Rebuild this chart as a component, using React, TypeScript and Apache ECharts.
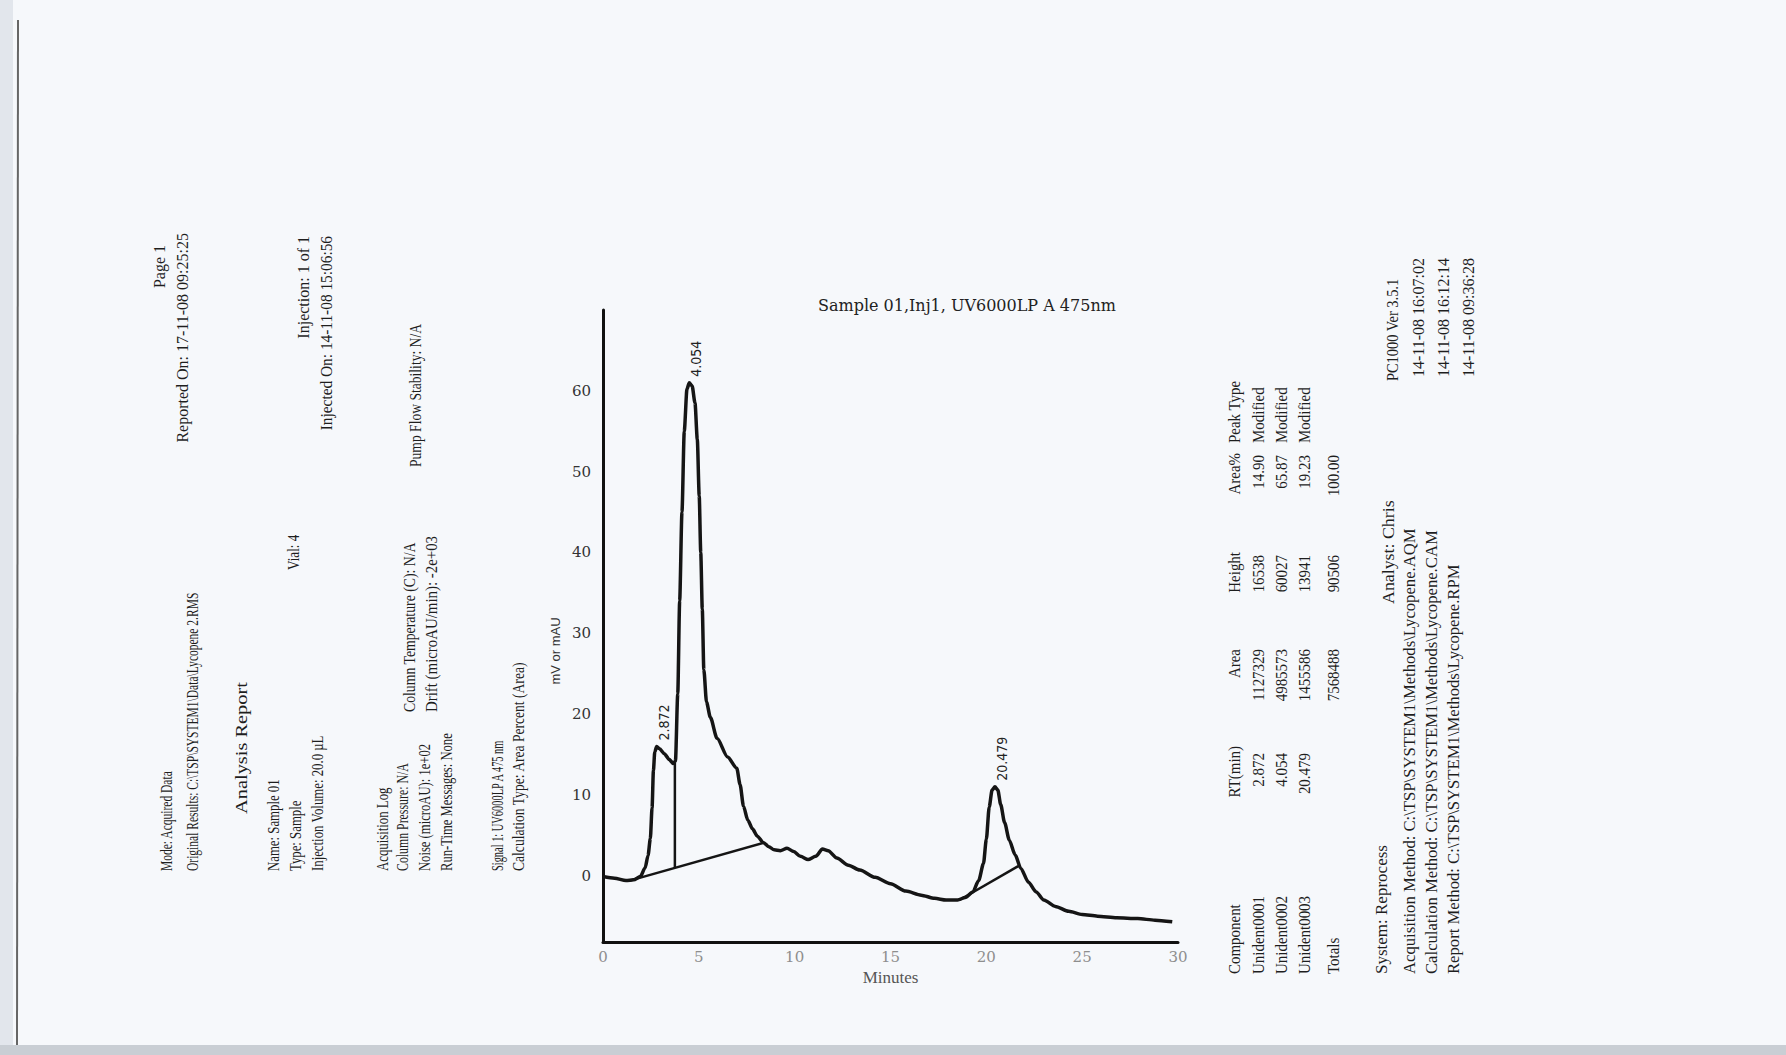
import React, { useEffect, useRef } from 'react';
import * as echarts from 'echarts';

// ---- chromatogram trace (minutes, mAU) ----
const timeMin = [
  0.0, 0.6, 1.2, 1.6, 1.95, 2.2, 2.35, 2.47, 2.56, 2.63, 2.7, 2.8, 2.95, 3.2, 3.45, 3.66,
  3.78, 3.9, 4.0, 4.12, 4.24, 4.38, 4.5, 4.65, 4.8, 4.92, 5.02, 5.1, 5.18, 5.26, 5.4, 5.6,
  5.95, 6.5, 6.98, 7.15, 7.33, 7.55, 7.8, 8.05, 8.36, 8.65, 8.93, 9.25, 9.6, 9.95, 10.3,
  10.7, 11.1, 11.45, 11.75, 12.2, 12.8, 13.4, 14.2, 15.0, 15.8, 16.6, 17.3, 17.9, 18.5,
  18.9, 19.3, 19.6, 19.85, 20.0, 20.15, 20.3, 20.45, 20.6, 20.75, 20.95, 21.2, 21.5,
  21.8, 22.2, 22.6, 23.0, 23.6, 24.3, 25.0, 25.8, 26.8, 27.9, 28.8, 29.7,
];
const signal = [
  -0.1, -0.3, -0.6, -0.5, -0.1, 1.0, 2.5, 4.6, 8.4, 13.0, 15.3, 16.0, 15.7, 15.1, 14.4, 13.9,
  14.2, 22.5, 34.0, 45.0, 55.0, 60.2, 61.0, 60.6, 58.5, 54.0, 47.0, 40.0, 33.0, 25.5, 21.5, 19.6,
  17.0, 14.7, 13.3, 11.3, 8.6, 6.9, 5.8, 4.9, 4.1, 3.6, 3.2, 3.1, 3.4, 3.0, 2.4,
  2.0, 2.4, 3.3, 3.1, 2.2, 1.3, 0.7, -0.2, -1.0, -1.9, -2.4, -2.8, -3.0, -3.0,
  -2.7, -2.0, -0.6, 1.5, 4.5, 8.5, 10.6, 11.0, 10.6, 8.8, 6.6, 4.4, 2.6,
  0.9, -0.8, -2.0, -3.0, -3.8, -4.4, -4.8, -5.0, -5.2, -5.3, -5.5, -5.7,
];

// integration baselines and drop line
const baseline1X = [1.4, 8.4];
const baseline1Y = [-0.6, 4.1];
const dropLineX = [3.75, 3.75];
const dropLineY = [1.0, 14.0];
const baseline2X = [18.6, 21.75];
const baseline2Y = [-3.0, 1.3];

// peak annotations
const peakRT = ['2.872', '4.054', '20.479'];
const peakApexX = [2.8, 4.5, 20.45];
const peakApexY = [16.0, 61.0, 11.0];

// axes
const xTicks = [0, 5, 10, 15, 20, 25, 30];
const yTicks = [0, 10, 20, 30, 40, 50, 60];

// results table
const components = ['Unident0001', 'Unident0002', 'Unident0003'];
const rtValues = ['2.872', '4.054', '20.479'];
const areaValues = ['1127329', '4985573', '1455586'];
const heightValues = ['16538', '60027', '13941'];
const areaPctValues = ['14.90', '65.87', '19.23'];
const peakTypes = ['Modified', 'Modified', 'Modified'];
const totalsRow = { area: '7568488', height: '90506', areaPct: '100.00' };

const DOC_FONT = '"Liberation Serif", "DejaVu Serif", serif';
const NARROW = '"Liberation Sans Narrow", "DejaVu Sans Condensed", "Liberation Sans", sans-serif';
const SERIF = '"DejaVu Serif", "Liberation Serif", serif';

function vtext(
  id: string,
  text: string,
  x: number,
  y: number,
  align: 'left' | 'right' | 'center',
  size = 16,
  scale = 1,
  color = '#1e1e1e',
  family = DOC_FONT
) {
  return {
    type: 'text',
    id,
    x,
    y,
    rotation: Math.PI / 2,
    scaleX: scale,
    silent: true,
    style: {
      text,
      fontSize: size,
      fontFamily: family,
      fill: color,
      align,
      textAlign: align,
      verticalAlign: 'middle',
      textVerticalAlign: 'middle',
    },
  };
}

function pairs(xs: number[], ys: number[]) {
  return xs.map((x, i) => [x, ys[i]]);
}

export default function App() {
  const ref = useRef<HTMLDivElement>(null);
  useEffect(() => {
    if (!ref.current) return;
    const chart = echarts.init(ref.current, null, { renderer: 'svg' });
    const lineColor = '#151515';
    chart.setOption({
      animation: false,
      backgroundColor: '#f6f8fb',
      grid: { left: 603, right: 608, top: 310, bottom: 113, containLabel: false },
      xAxis: {
        type: 'value',
        min: 0,
        max: 30,
        interval: 5,
        name: 'Minutes',
        nameLocation: 'middle',
        nameGap: 26,
        nameTextStyle: { fontFamily: '"Liberation Serif", serif', fontSize: 17, color: '#555' },
        axisLine: { onZero: false, lineStyle: { color: '#111', width: 3 } },
        axisTick: { show: false },
        splitLine: { show: false },
        axisLabel: {
          customValues: xTicks,
          fontFamily: SERIF,
          fontSize: 15,
          color: '#8e8e8e',
          margin: 7,
        },
      },
      yAxis: {
        type: 'value',
        min: -8.2,
        max: 70,
        axisLine: { show: true, lineStyle: { color: '#111', width: 3 } },
        axisTick: { show: false },
        splitLine: { show: false },
        axisLabel: {
          customValues: yTicks,
          fontFamily: SERIF,
          fontSize: 15,
          color: '#333',
          margin: 12,
        },
      },
      series: [
        {
          type: 'line',
          name: 'trace',
          data: pairs(timeMin, signal),
          symbol: 'none',
          smooth: 0.25,
          smoothMonotone: 'x',
          lineStyle: { color: lineColor, width: 3.5 },
        },
        {
          type: 'line',
          data: pairs(baseline1X, baseline1Y),
          symbol: 'none',
          lineStyle: { color: lineColor, width: 2.5 },
        },
        {
          type: 'line',
          data: pairs(dropLineX, dropLineY),
          symbol: 'none',
          lineStyle: { color: lineColor, width: 2.5 },
        },
        {
          type: 'line',
          data: pairs(baseline2X, baseline2Y),
          symbol: 'none',
          lineStyle: { color: lineColor, width: 2.5 },
        },
      ],
    });

    const g: any[] = [];
    // page decoration
    g.push({ type: 'rect', id: 'edgeL', shape: { x: 0, y: 0, width: 13, height: 1055 }, style: { fill: '#e2e6ec' }, silent: true });
    g.push({ type: 'line', id: 'edgeLine', shape: { x1: 18, y1: 20, x2: 17, y2: 1045 }, style: { stroke: '#666', lineWidth: 2 }, silent: true });
    g.push({ type: 'rect', id: 'edgeB', shape: { x: 0, y: 1045, width: 1786, height: 10 }, style: { fill: '#c9ced4' }, silent: true });

    // chart title
    g.push({
      type: 'text', id: 'title', x: 818, y: 305, silent: true,
      style: { text: 'Sample 01,Inj1, UV6000LP A 475nm', fontFamily: SERIF, fontSize: 16, fill: '#222', align: 'left', textAlign: 'left', verticalAlign: 'middle', textVerticalAlign: 'middle' },
    });
    // y axis title
    g.push(vtext('yname', 'mV or mAU', 555, 651, 'center', 13, 1, '#333', '"Liberation Sans", sans-serif'));

    // header block
    const F = 16;
    const B = 871;
    g.push(vtext('t1', 'Mode: Acquired Data', 167, B, 'left', F, 0.72));
    g.push(vtext('t2', 'Original Results: C:\\TSP\\SYSTEM1\\Data\\Lycopene 2.RMS', 193, B, 'left', F, 0.72));
    g.push(vtext('t3', 'Page 1', 159, 245, 'right', F, 1.0));
    g.push(vtext('t4', 'Reported On: 17-11-08 09:25:25', 182, 233, 'right', F, 1.0));
    g.push(vtext('t5', 'Analysis Report', 241, 814, 'left', 17, 1.2));
    g.push(vtext('t6', 'Name: Sample 01', 273, B, 'left', F, 0.8));
    g.push(vtext('t7', 'Vial: 4', 294, 570, 'left', F, 0.82));
    g.push(vtext('t8', 'Injection: 1 of 1', 303, 236, 'right', F, 1.0));
    g.push(vtext('t9', 'Type: Sample', 295, B, 'left', F, 0.8));
    g.push(vtext('t10', 'Injected On: 14-11-08 15:06:56', 326, 236, 'right', F, 0.96));
    g.push(vtext('t11', 'Injection Volume: 20.0 µL', 317, B, 'left', F, 0.8));
    g.push(vtext('t12', 'Acquisition Log', 382, B, 'left', F, 0.8));
    g.push(vtext('t13', 'Column Pressure: N/A', 402, B, 'left', F, 0.74));
    g.push(vtext('t14', 'Column Temperature (C): N/A', 410, 712, 'left', F, 0.86));
    g.push(vtext('t15', 'Pump Flow Stability: N/A', 416, 467, 'left', F, 0.85));
    g.push(vtext('t16', 'Noise (microAU): 1e+02', 424, B, 'left', F, 0.79));
    g.push(vtext('t17', 'Drift (microAU/min): -2e+03', 431, 712, 'left', F, 0.93));
    g.push(vtext('t18', 'Run-Time Messages: None', 446, B, 'left', F, 0.79));
    g.push(vtext('t19', 'Signal 1: UV6000LP A 475 nm', 498, B, 'left', F, 0.65));
    g.push(vtext('t20', 'Calculation Type: Area Percent (Area)', 519, B, 'left', F, 0.85));

    // results table
    const TS = 17;
    const TC = 0.88;
    const TB = 974;
    const hx = 1234;
    const rowX = [1258, 1281, 1304];
    const totX = 1333;
    g.push(vtext('h0', 'Component', hx, TB, 'left', TS, TC));
    g.push(vtext('h1', 'RT(min)', hx, 746, 'right', TS, TC));
    g.push(vtext('h2', 'Area', hx, 649, 'right', TS, TC));
    g.push(vtext('h3', 'Height', hx, 552, 'right', TS, TC));
    g.push(vtext('h4', 'Area%', hx, 453, 'right', TS, TC));
    g.push(vtext('h5', 'Peak Type', hx, 443, 'left', TS, TC));
    components.forEach((c, i) => {
      g.push(vtext('r0_' + i, c, rowX[i], TB, 'left', TS, TC));
      g.push(vtext('r1_' + i, rtValues[i], rowX[i], 753, 'right', TS, TC));
      g.push(vtext('r2_' + i, areaValues[i], rowX[i], 649, 'right', TS, TC));
      g.push(vtext('r3_' + i, heightValues[i], rowX[i], 555, 'right', TS, TC));
      g.push(vtext('r4_' + i, areaPctValues[i], rowX[i], 455, 'right', TS, TC));
      g.push(vtext('r5_' + i, peakTypes[i], rowX[i], 443, 'left', TS, TC));
    });
    g.push(vtext('tot0', 'Totals', totX, TB, 'left', TS, TC));
    g.push(vtext('tot2', totalsRow.area, totX, 649, 'right', TS, TC));
    g.push(vtext('tot3', totalsRow.height, totX, 555, 'right', TS, TC));
    g.push(vtext('tot4', totalsRow.areaPct, totX, 455, 'right', TS, TC));

    // footer block
    const FC = 0.98;
    g.push(vtext('f1', 'System: Reprocess', 1381, TB, 'left', TS, 1.0));
    g.push(vtext('f2', 'Analyst: Chris', 1388, 604, 'left', TS, 1.05));
    g.push(vtext('f3', 'Acquisition Method: C:\\TSP\\SYSTEM1\\Methods\\Lycopene.AQM', 1409, TB, 'left', TS, FC));
    g.push(vtext('f4', 'Calculation Method: C:\\TSP\\SYSTEM1\\Methods\\Lycopene.CAM', 1431, TB, 'left', TS, FC));
    g.push(vtext('f5', 'Report Method: C:\\TSP\\SYSTEM1\\Methods\\Lycopene.RPM', 1453, TB, 'left', TS, FC));
    g.push(vtext('p1', 'PC1000 Ver 3.5.1', 1392, 381, 'left', 16, 0.9));
    g.push(vtext('p2', '14-11-08 16:07:02', 1418, 377, 'left', 16, 1.0));
    g.push(vtext('p3', '14-11-08 16:12:14', 1443, 377, 'left', 16, 1.0));
    g.push(vtext('p4', '14-11-08 09:36:28', 1468, 377, 'left', 16, 1.0));

    // peak retention-time labels, positioned through the chart's scales
    peakRT.forEach((rt, i) => {
      const p = chart.convertToPixel({ xAxisIndex: 0, yAxisIndex: 0 }, [peakApexX[i], peakApexY[i]]) as number[];
      g.push(vtext('pk' + i, rt, p[0] + 7, p[1] - 6, 'left', 14, 1, '#222', NARROW));
    });

    chart.setOption({ graphic: { elements: g } });
    return () => chart.dispose();
  }, []);
  return (
    <div
      ref={ref}
      style={{ position: 'absolute', left: 0, top: 0, width: 1786, height: 1055 }}
    />
  );
}
